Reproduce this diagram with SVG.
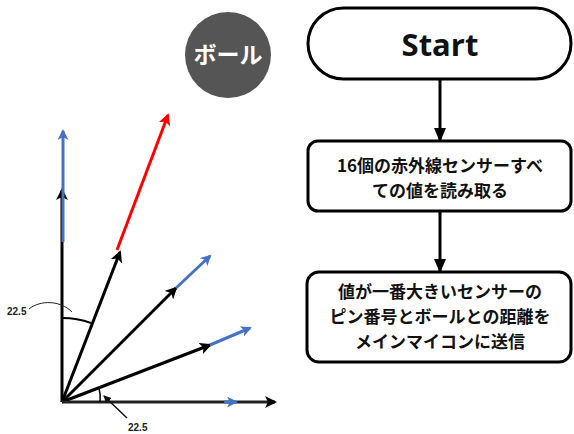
<svg xmlns="http://www.w3.org/2000/svg" width="574" height="434" viewBox="0 0 574 434">
<style>
.box{fill:#fff;stroke:#000;stroke-width:3}
.jp{font-family:"Noto Sans CJK JP","Noto Sans",sans-serif;font-weight:bold;font-size:17px;fill:#111;text-anchor:middle}
.lbl{font-family:"Liberation Sans",Arial,sans-serif;font-size:10px;fill:#222;font-weight:bold}
.blk{stroke:#000;stroke-width:3;fill:none}
.blu{stroke:#4472C4;stroke-width:3;fill:none}
.red{stroke:#FF0000;stroke-width:3;fill:none}
</style>
<defs>
<marker id="ab" markerWidth="12" markerHeight="12" refX="10" refY="6" orient="auto" markerUnits="userSpaceOnUse" viewBox="0 0 12 12"><path d="M0,0 L12,6 L0,12 L3,6 z" fill="#000"/></marker>
<marker id="ablu" markerWidth="11" markerHeight="11" refX="9" refY="5.5" orient="auto" markerUnits="userSpaceOnUse" viewBox="0 0 11 11"><path d="M0,0 L11,5.5 L0,11 L3,5.5 z" fill="#4472C4"/></marker>
<marker id="ared" markerWidth="12" markerHeight="12" refX="10" refY="6" orient="auto" markerUnits="userSpaceOnUse" viewBox="0 0 12 12"><path d="M0,0 L12,6 L0,12 L3,6 z" fill="#FF0000"/></marker>
<marker id="af" markerWidth="14" markerHeight="14" refX="12" refY="7" orient="auto" markerUnits="userSpaceOnUse" viewBox="0 0 14 14"><path d="M0,1 L14,7 L0,13 z" fill="#000"/></marker>
<marker id="asm" markerWidth="8" markerHeight="8" refX="7" refY="4" orient="auto" markerUnits="userSpaceOnUse" viewBox="0 0 8 8"><path d="M0,0 L8,4 L0,8 z" fill="#111"/></marker>
</defs>

<g id="vectors">
<line class="blk" x1="62" y1="402" x2="62" y2="190" marker-end="url(#ab)"/>
<line class="blu" x1="63" y1="242" x2="63" y2="131" marker-end="url(#ablu)"/>
<line class="blk" x1="62" y1="402" x2="120" y2="252" marker-end="url(#ab)"/>
<line class="red" x1="117" y1="250" x2="168" y2="115" marker-end="url(#ared)"/>
<line class="blk" x1="62" y1="402" x2="176" y2="288" marker-end="url(#ab)"/>
<line class="blu" x1="176" y1="288" x2="210" y2="256" marker-end="url(#ablu)"/>
<line class="blk" x1="62" y1="402" x2="210" y2="345" marker-end="url(#ab)"/>
<line class="blu" x1="210" y1="345" x2="250" y2="328" marker-end="url(#ablu)"/>
<line x1="62" y1="402" x2="275" y2="402" stroke="#222" stroke-width="3" marker-end="url(#ab)"/>
<path d="M224,402 L236,402" stroke="#4472C4" stroke-width="3" marker-end="url(#ablu)"/>
</g>

<g id="angles">
<path d="M62,318 A84,84 0 0 1 91,323" fill="none" stroke="#000" stroke-width="2"/>
<path d="M99,388 A38,38 0 0 1 100,402" fill="none" stroke="#000" stroke-width="1.5"/>
<path d="M29,309 C40,300 60,300 72,312" fill="none" stroke="#222" stroke-width="1"/>
<text class="lbl" x="7" y="315">22.5</text>
<line x1="127" y1="418" x2="104" y2="396" stroke="#111" stroke-width="1.5" marker-end="url(#asm)"/>
<text class="lbl" x="128" y="431">22.5</text>
</g>

<g id="ball">
<circle cx="228" cy="55" r="43" fill="#555"/>
<text x="228" y="63" font-family="Noto Sans CJK JP,sans-serif" font-weight="bold" font-size="23" fill="#fff" text-anchor="middle">ボール</text>
</g>

<g id="connectors">
<line x1="440" y1="79" x2="440" y2="140" stroke="#000" stroke-width="3" marker-end="url(#af)"/>
<line x1="440" y1="211" x2="440" y2="271" stroke="#000" stroke-width="3" marker-end="url(#af)"/>
</g>

<g id="start">
<rect class="box" x="308" y="8" width="263" height="71" rx="35.5"/>
<text x="440" y="56" font-family="Open Sans,Noto Sans,sans-serif" font-weight="bold" font-size="31" fill="#111" text-anchor="middle">Start</text>
</g>

<g id="read">
<rect class="box" x="308" y="141" width="263" height="70" rx="10"/>
<text class="jp" x="440" y="172">16個の赤外線センサーすべ</text>
<text class="jp" x="440" y="197">ての値を読み取る</text>
</g>

<g id="send">
<rect class="box" x="307" y="272" width="264" height="90" rx="12"/>
<text class="jp" x="440" y="298">値が一番大きいセンサーの</text>
<text class="jp" x="440" y="323">ピン番号とボールとの距離を</text>
<text class="jp" x="440" y="348">メインマイコンに送信</text>
</g>
</svg>
